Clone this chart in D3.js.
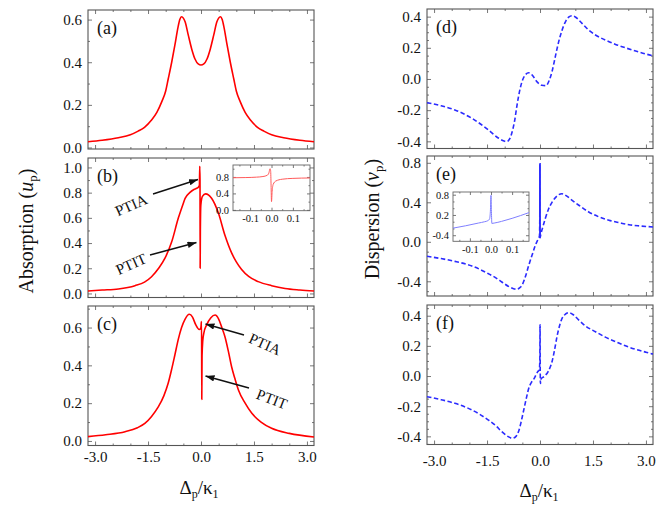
<!DOCTYPE html>
<html>
<head>
<meta charset="utf-8">
<script src="https://cdn.jsdelivr.net/npm/d3@7"></script>
<style>
  body { margin: 0; background: #fff; }
  svg { display: block; }
  text { font-family: "Liberation Serif", "Times New Roman", serif; }
</style>
</head>
<body>
<div id="chart"></div>
<script>
// ---- data: [detuning, value] ----
const absA = [[-3.2,0.027],[-2.8,0.034],[-2.34,0.046],[-2.0,0.06],[-1.78,0.077],[-1.6,0.095],[-1.4,0.129],[-1.25,0.165],[-1.11,0.215],[-1.0,0.265],[-0.93,0.32],[-0.83,0.4],[-0.74,0.48],[-0.65,0.565],[-0.6,0.6],[-0.55,0.613],[-0.5,0.607],[-0.45,0.59],[-0.36,0.527],[-0.26,0.46],[-0.17,0.415],[-0.08,0.392],[0,0.387],[0.08,0.392],[0.17,0.415],[0.26,0.46],[0.36,0.527],[0.45,0.59],[0.5,0.607],[0.55,0.613],[0.6,0.6],[0.65,0.565],[0.74,0.48],[0.83,0.4],[0.93,0.32],[1.0,0.265],[1.11,0.215],[1.25,0.165],[1.4,0.129],[1.6,0.095],[1.78,0.077],[2.0,0.06],[2.34,0.046],[2.8,0.034],[3.2,0.027]];

const absB = [[-3.2,0.02],[-2.8,0.027],[-2.34,0.036],[-1.87,0.062],[-1.6,0.09],[-1.4,0.133],[-1.2,0.2],[-1.02,0.28],[-0.83,0.41],[-0.64,0.6],[-0.52,0.7],[-0.45,0.755],[-0.32,0.8],[-0.2,0.825],[-0.12,0.835],[-0.07,0.845],[-0.045,0.86],[-0.035,1.01],[-0.028,0.9],[-0.024,0.2],[-0.018,0.5],[-0.005,0.7],[0.04,0.77],[0.13,0.79],[0.3,0.755],[0.49,0.64],[0.68,0.46],[0.87,0.32],[1.0,0.25],[1.15,0.19],[1.35,0.135],[1.62,0.094],[2.0,0.062],[2.38,0.04],[2.8,0.028],[3.2,0.02]];

const absC = [[-3.2,0.023],[-2.7,0.033],[-2.15,0.049],[-1.8,0.07],[-1.59,0.093],[-1.4,0.13],[-1.21,0.18],[-1.05,0.24],[-0.93,0.305],[-0.83,0.38],[-0.74,0.455],[-0.64,0.54],[-0.55,0.6],[-0.45,0.645],[-0.33,0.67],[-0.24,0.655],[-0.15,0.615],[-0.05,0.59],[-0.01,0.595],[0.005,0.615],[0.01,0.632],[0.016,0.632],[0.022,0.22],[0.03,0.45],[0.05,0.53],[0.08,0.57],[0.16,0.614],[0.28,0.652],[0.4,0.666],[0.5,0.645],[0.59,0.6],[0.68,0.55],[0.78,0.47],[0.87,0.39],[0.96,0.33],[1.06,0.27],[1.25,0.2],[1.44,0.146],[1.7,0.1],[2.0,0.067],[2.5,0.04],[3.2,0.021]];

const dispD = [[-3.2,-0.152],[-2.8,-0.172],[-2.41,-0.199],[-1.93,-0.252],[-1.46,-0.327],[-1.17,-0.38],[-1.02,-0.398],[-0.94,-0.402],[-0.86,-0.385],[-0.8,-0.348],[-0.72,-0.27],[-0.65,-0.167],[-0.58,-0.08],[-0.51,-0.017],[-0.42,0.025],[-0.32,0.04],[-0.22,0.025],[-0.09,-0.017],[0.05,-0.04],[0.17,-0.043],[0.26,-0.01],[0.34,0.047],[0.44,0.15],[0.53,0.24],[0.62,0.31],[0.72,0.367],[0.82,0.398],[0.91,0.406],[1.0,0.398],[1.19,0.357],[1.37,0.315],[1.57,0.282],[1.85,0.25],[2.14,0.222],[2.42,0.2],[2.71,0.179],[3.0,0.16],[3.2,0.149]];

const dispE = [[-3.2,-0.147],[-2.8,-0.17],[-2.41,-0.198],[-1.93,-0.245],[-1.46,-0.323],[-1.25,-0.365],[-1.08,-0.407],[-0.9,-0.45],[-0.75,-0.475],[-0.65,-0.48],[-0.57,-0.465],[-0.51,-0.44],[-0.42,-0.36],[-0.32,-0.24],[-0.22,-0.13],[-0.13,-0.035],[-0.05,0.03],[-0.015,0.06],[-0.006,0.25],[-0.002,0.79],[0.002,0.04],[0.02,0.07],[0.08,0.15],[0.15,0.235],[0.24,0.33],[0.34,0.4],[0.47,0.46],[0.62,0.487],[0.75,0.465],[0.91,0.42],[1.1,0.37],[1.38,0.302],[1.65,0.255],[1.95,0.218],[2.25,0.193],[2.52,0.173],[2.85,0.16],[3.2,0.15]];

const dispF = [[-3.2,-0.137],[-2.8,-0.157],[-2.41,-0.181],[-1.93,-0.225],[-1.46,-0.292],[-1.25,-0.33],[-1.08,-0.369],[-0.9,-0.402],[-0.78,-0.413],[-0.68,-0.4],[-0.61,-0.37],[-0.53,-0.3],[-0.46,-0.225],[-0.38,-0.14],[-0.32,-0.082],[-0.25,-0.045],[-0.18,-0.022],[-0.06,0.03],[-0.02,0.04],[-0.005,0.1],[0.002,0.34],[0.006,0.05],[0.012,-0.05],[0.03,-0.02],[0.11,-0.004],[0.23,0.03],[0.34,0.095],[0.41,0.17],[0.48,0.26],[0.55,0.33],[0.62,0.38],[0.72,0.41],[0.82,0.42],[0.95,0.405],[1.1,0.371],[1.3,0.33],[1.57,0.294],[1.85,0.258],[2.14,0.228],[2.42,0.2],[2.71,0.177],[3.0,0.158],[3.2,0.146]];

// zoomed insets of (b) and (e)
const insetB = [[-0.18,0.78],[-0.12,0.785],[-0.07,0.795],[-0.04,0.81],[-0.02,0.84],[-0.012,0.9],[-0.007,1.0],[-0.004,0.95],[-0.002,0.6],[0.0,0.2],[0.003,0.45],[0.008,0.62],[0.02,0.7],[0.05,0.745],[0.1,0.765],[0.18,0.775]];
const insetE = [[-0.18,-0.19],[-0.12,-0.12],[-0.06,-0.04],[-0.03,0.0],[-0.015,0.03],[-0.007,0.08],[-0.003,0.3],[0.0,0.78],[0.002,0.3],[0.004,-0.05],[0.015,-0.04],[0.05,0.01],[0.1,0.1],[0.18,0.27]];

// ticks
const xMajor = [-3, -1.5, 0, 1.5, 3];
const xMinor = [-2.5, -2, -1, -0.5, 0.5, 1, 2, 2.5];
const yTicksA = [0, 0.2, 0.4, 0.6];
const yTicksB = [0, 0.2, 0.4, 0.6, 0.8, 1.0];
const yTicksC = [0, 0.2, 0.4, 0.6];
const yTicksD = [-0.4, -0.2, 0, 0.2, 0.4];
const yTicksE = [-0.4, 0, 0.4, 0.8];
const yTicksF = [-0.4, -0.2, 0, 0.2, 0.4];
const insetXTicks = [-0.1, 0, 0.1];
const insetYTicksB = [0, 0.4, 0.8];
const insetYTicksE = [-0.4, 0.2, 0.8];

const width = 664, height = 509;
const xDomain = [-3.2, 3.2];
const red = "#ff0000";
const blue = "#2b2bff";
const fmt = d => d.toFixed(1);

const svg = d3.select("#chart").append("svg")
  .attr("width", width)
  .attr("height", height);
svg.append("rect").attr("width", width).attr("height", height).attr("fill", "#fff");

const defs = svg.append("defs");
defs.append("marker")
  .attr("id", "arrow")
  .attr("viewBox", "0 0 10 7")
  .attr("refX", 10).attr("refY", 3.5)
  .attr("markerWidth", 9).attr("markerHeight", 6.5)
  .attr("markerUnits", "userSpaceOnUse")
  .attr("orient", "auto")
  .append("path").attr("d", "M0,0 L10,3.5 L0,7 Z").attr("fill", "#111");

let clipId = 0;

function styleAxis(g, size) {
  g.select(".domain").remove();
  g.selectAll("text")
    .attr("font-size", size)
    .attr("fill", "#111");
  g.attr("font-family", null).attr("font-size", null);
}

// one framed Mathematica-style panel
function drawPanel(p) {
  const g = svg.append("g");
  const x = d3.scaleLinear().domain(p.xd || xDomain).range(p.xr);
  const y = d3.scaleLinear().domain(p.yd).range([p.bottom, p.top]);
  const big = p.tick || 4, small = big / 2;
  const fs = p.fontSize || 15;

  const yMinor = d3.range(Math.ceil(p.yd[0] / p.yStep), Math.floor(p.yd[1] / p.yStep) + 1)
    .map(k => +(k * p.yStep).toFixed(3))
    .filter(v => !p.yMajor.some(m => Math.abs(m - v) < 1e-6));

  const axes = [
    [d3.axisLeft(y).tickValues(p.yMajor).tickSize(-big).tickPadding(p.yPad || 6).tickFormat(fmt), `translate(${p.xr[0]},0)`],
    [d3.axisLeft(y).tickValues(yMinor).tickSize(-small).tickFormat(""), `translate(${p.xr[0]},0)`],
    [d3.axisRight(y).tickValues(p.yMajor).tickSize(-big).tickFormat(""), `translate(${p.xr[1]},0)`],
    [d3.axisRight(y).tickValues(yMinor).tickSize(-small).tickFormat(""), `translate(${p.xr[1]},0)`],
    [d3.axisBottom(x).tickValues(p.xMajor).tickSize(-big).tickPadding(p.xPad || 6).tickFormat(p.xLabels ? fmt : ""), `translate(0,${p.bottom})`],
    [d3.axisBottom(x).tickValues(p.xMinor).tickSize(-small).tickFormat(""), `translate(0,${p.bottom})`],
    [d3.axisTop(x).tickValues(p.xMajor).tickSize(-big).tickFormat(""), `translate(0,${p.top})`],
    [d3.axisTop(x).tickValues(p.xMinor).tickSize(-small).tickFormat(""), `translate(0,${p.top})`]
  ];
  axes.forEach(([ax, tr]) => {
    const a = g.append("g").attr("transform", tr).style("color", "#555").call(ax);
    styleAxis(a, fs);
  });
  g.selectAll(".tick line").attr("stroke-width", 0.8);

  g.append("rect")
    .attr("x", p.xr[0]).attr("y", p.top)
    .attr("width", p.xr[1] - p.xr[0]).attr("height", p.bottom - p.top)
    .attr("fill", "none").attr("stroke", p.frameColor || "#555").attr("stroke-width", p.frameWidth || 1.1);

  const id = "clip" + (clipId++);
  defs.append("clipPath").attr("id", id).append("rect")
    .attr("x", p.xr[0]).attr("y", p.top)
    .attr("width", p.xr[1] - p.xr[0]).attr("height", p.bottom - p.top);

  const line = d3.line().x(d => x(d[0])).y(d => y(d[1])).curve(d3.curveMonotoneX);
  const path = g.append("path")
    .datum(p.data)
    .attr("clip-path", `url(#${id})`)
    .attr("d", line)
    .attr("fill", "none")
    .attr("stroke", p.color)
    .attr("stroke-width", p.lineWidth || 1.6)
    .attr("stroke-linejoin", "round");
  if (p.dash) path.attr("stroke-dasharray", p.dash);

  if (p.label) {
    g.append("text")
      .attr("x", p.xr[0] + 9).attr("y", p.top + 24)
      .attr("font-size", 18).attr("fill", "#111")
      .text(p.label);
  }
  return { g, x, y, line };
}

const L = [88, 314], R = [427, 653];

drawPanel({ xr: L, top: 10, bottom: 149, yd: [-0.007, 0.645], yMajor: yTicksA, yStep: 0.1,
  xMajor, xMinor, data: absA, color: red, label: "(a)" });
drawPanel({ xr: L, top: 158, bottom: 297.5, yd: [-0.032, 1.075], yMajor: yTicksB, yStep: 0.1,
  xMajor, xMinor, data: absB, color: red, label: "(b)" });
drawPanel({ xr: L, top: 306, bottom: 445.5, yd: [-0.024, 0.714], yMajor: yTicksC, yStep: 0.1,
  xMajor, xMinor, xLabels: true, xPad: 6, data: absC, color: red, label: "(c)" });

drawPanel({ xr: R, top: 9, bottom: 148.5, yd: [-0.446, 0.449], yMajor: yTicksD, yStep: 0.05,
  xMajor, xMinor, data: dispD, color: blue, dash: "4.5,2.5", label: "(d)" });
const pe = drawPanel({ xr: R, top: 156, bottom: 296, yd: [-0.549, 0.869], yMajor: yTicksE, yStep: 0.1,
  xMajor, xMinor, data: dispE, color: blue, dash: "4.5,2.5", label: "(e)" });
drawPanel({ xr: R, top: 305, bottom: 444.5, yd: [-0.454, 0.471], yMajor: yTicksF, yStep: 0.05,
  xMajor, xMinor, xLabels: true, xPad: 11, data: dispF, color: blue, dash: "4.5,2.5", label: "(f)" });

// the narrow spike in (e) shows as a solid stroke
pe.g.append("path")
  .datum(dispE.filter(d => Math.abs(d[0]) < 0.01))
  .attr("d", pe.line)
  .attr("fill", "none").attr("stroke", blue).attr("stroke-width", 1.6);

// insets
function drawInset(p) {
  svg.append("rect")
    .attr("x", p.xr[0]).attr("y", p.top)
    .attr("width", p.xr[1] - p.xr[0]).attr("height", p.bottom - p.top)
    .attr("fill", "#fff");
  return drawPanel(Object.assign({
    xd: [-0.18, 0.18], xMajor: insetXTicks, xMinor: [-0.15, -0.05, 0.05, 0.15],
    xLabels: true, tick: 3, fontSize: 10.5, xPad: 4, yPad: 4,
    frameColor: "#666", frameWidth: 0.9, lineWidth: 1
  }, p));
}

drawInset({ xr: [233, 310], top: 165, bottom: 210.7, yd: [-0.02, 1.09], yMajor: insetYTicksB, yStep: 0.2,
  data: insetB, color: "#ff5a5a" });
drawInset({ xr: [453, 529], top: 192, bottom: 241.3, yd: [-0.58, 0.88], yMajor: insetYTicksE, yStep: 0.2,
  data: insetE, color: "#7f7fff" });

// arrows with labels
const notes = [
  { text: "PTIA", cx: 131, cy: 205, rot: -24, from: [153, 194], to: [198, 179.5] },
  { text: "PTIT", cx: 131, cy: 264, rot: -24, from: [150, 255], to: [196.5, 242.5] },
  { text: "PTIA", cx: 265, cy: 344, rot: 24, from: [244, 335], to: [205.5, 324] },
  { text: "PTIT", cx: 272, cy: 399, rot: 21, from: [249, 388], to: [205.5, 376] }
];
notes.forEach(n => {
  svg.append("line")
    .attr("x1", n.from[0]).attr("y1", n.from[1])
    .attr("x2", n.to[0]).attr("y2", n.to[1])
    .attr("stroke", "#111").attr("stroke-width", 1.4)
    .attr("marker-end", "url(#arrow)");
  svg.append("text")
    .attr("transform", `translate(${n.cx},${n.cy}) rotate(${n.rot})`)
    .attr("text-anchor", "middle").attr("dy", "0.35em")
    .attr("font-size", 15).attr("fill", "#111")
    .text(n.text);
});

// axis titles
function yTitle(x, y, word, sym) {
  const t = svg.append("text")
    .attr("transform", `translate(${x},${y}) rotate(-90)`)
    .attr("text-anchor", "middle")
    .attr("font-size", 20).attr("fill", "#111");
  t.append("tspan").text(word + " (");
  t.append("tspan").attr("font-style", "italic").text(sym);
  t.append("tspan").attr("font-size", 13).attr("dy", 4).text("p");
  t.append("tspan").attr("dy", -4).text(")");
}
yTitle(33, 231, "Absorption", "u");
yTitle(379, 219, "Dispersion", "v");

function xTitle(x, y) {
  const t = svg.append("text")
    .attr("x", x).attr("y", y)
    .attr("text-anchor", "middle")
    .attr("font-size", 19).attr("fill", "#111");
  t.append("tspan").text("\u0394");
  t.append("tspan").attr("font-size", 12).attr("dy", 4).text("p");
  t.append("tspan").attr("dy", -4).text("/\u03ba");
  t.append("tspan").attr("font-size", 12).attr("dy", 4).text("1");
}
xTitle(199, 494);
xTitle(539, 497);
</script>
</body>
</html>
